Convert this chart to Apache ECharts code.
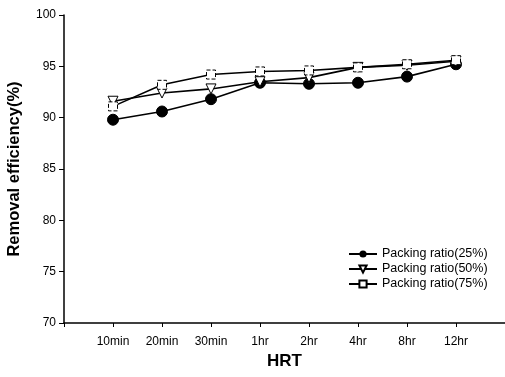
<!DOCTYPE html>
<html>
<head>
<meta charset="utf-8">
<script src="https://cdn.jsdelivr.net/npm/echarts@6/dist/echarts.min.js"></script>
<style>
  html, body { margin: 0; padding: 0; background: #fff; }
  #chart { width: 505px; height: 377px; }
</style>
</head>
<body>
<div id="chart"></div>
<script>
  // HRT categories on the x axis
  var categories = ['10min', '20min', '30min', '1hr', '2hr', '4hr', '8hr', '12hr'];
  // removal efficiency (%) per packing ratio
  var ratio25 = [89.8, 90.6, 91.8, 93.4, 93.3, 93.4, 94.0, 95.2];
  var ratio50 = [91.6, 92.4, 92.8, 93.5, 93.9, 94.9, 95.1, 95.5];
  var ratio75 = [91.1, 93.2, 94.2, 94.5, 94.6, 94.9, 95.2, 95.6];
  var yTicks = [70, 75, 80, 85, 90, 95, 100];

  function toPoints(arr) {
    return arr.map(function (v, i) { return [i + 1, v]; });
  }

  var chart = echarts.init(document.getElementById('chart'));
  var font = 'Liberation Sans, Arial, sans-serif';

  var option = {
    backgroundColor: '#fff',
    animation: false,
    grid: { left: 64, right: 0, top: 15, bottom: 54, containLabel: false, outerBoundsMode: 'none' },
    legend: {
      orient: 'vertical',
      left: 343,
      top: 242,
      itemWidth: 28,
      itemHeight: 9,
      itemGap: 1,
      textStyle: { fontFamily: font, fontSize: 12.5, color: '#000', lineHeight: 14 },
      data: ['Packing ratio(25%)', 'Packing ratio(50%)', 'Packing ratio(75%)']
    },
    xAxis: {
      type: 'value',
      min: 0,
      max: 9,
      interval: 1,
      name: 'HRT',
      nameLocation: 'middle',
      nameGap: 24,
      nameTextStyle: { fontFamily: font, fontSize: 17, fontWeight: 'bold', color: '#000' },
      axisLine: { show: true, lineStyle: { color: '#000', width: 1.5 } },
      axisTick: { show: true, length: 4, lineStyle: { color: '#000' } },
      axisLabel: {
        fontFamily: font, fontSize: 12, color: '#000', margin: 13,
        formatter: function (v) { return categories[v - 1] || ''; }
      },
      splitLine: { show: false }
    },
    yAxis: {
      type: 'value',
      min: yTicks[0],
      max: yTicks[yTicks.length - 1],
      interval: 5,
      name: 'Removal efficiency(%)',
      nameLocation: 'middle',
      nameGap: 41,
      nameTextStyle: { fontFamily: font, fontSize: 16.5, fontWeight: 'bold', color: '#000' },
      axisLine: { show: true, lineStyle: { color: '#000', width: 1.5 } },
      axisTick: { show: true, length: 5, lineStyle: { color: '#000' } },
      axisLabel: { fontFamily: font, fontSize: 12, color: '#000', margin: 8 },
      splitLine: { show: false }
    },
    series: [
      {
        name: 'Packing ratio(25%)',
        type: 'line',
        data: toPoints(ratio25),
        symbol: 'circle',
        symbolSize: 11,
        itemStyle: { color: '#000', borderColor: '#000' },
        lineStyle: { color: '#000', width: 1.6 },
        z: 3
      },
      {
        name: 'Packing ratio(50%)',
        type: 'line',
        data: toPoints(ratio50),
        symbol: 'triangle',
        symbolRotate: 180,
        symbolSize: 10,
        itemStyle: { color: '#fff', borderColor: '#000', borderWidth: 1 },
        lineStyle: { color: '#000', width: 1.6 },
        z: 4
      },
      {
        name: 'Packing ratio(75%)',
        type: 'line',
        data: toPoints(ratio75),
        symbol: 'rect',
        symbolSize: 9,
        itemStyle: { color: '#fff', borderColor: '#000', borderWidth: 1, borderType: 'dashed' },
        lineStyle: { color: '#000', width: 1.6 },
        z: 5
      }
    ]
  };

  chart.setOption(option);
</script>
</body>
</html>
